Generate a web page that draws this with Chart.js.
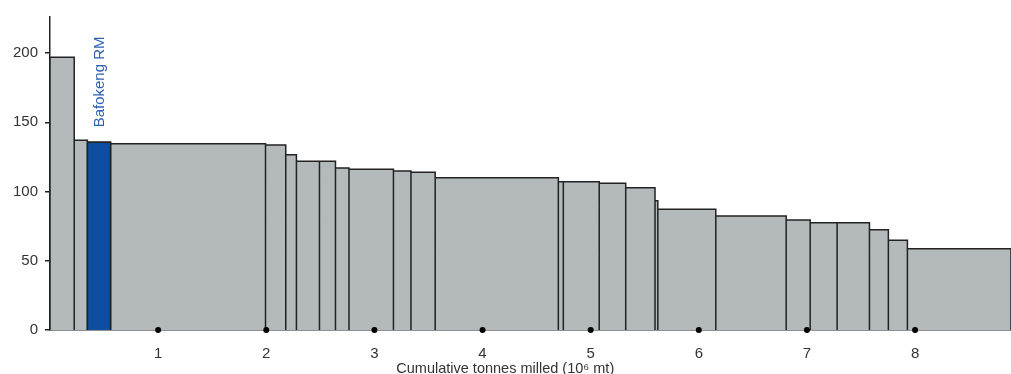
<!DOCTYPE html>
<html lang="en">
<head>
    <meta charset="UTF-8">
    <title>Cumulative tonnes milled</title>
    <script src="https://cdn.jsdelivr.net/npm/chart.js@4"></script>
    <style>
        body { margin: 0; background: #fff; }
        /* canvas is a few px wider than the window: Chart.js keeps ~5px free on the right */
        #wrap { width: 1011px; height: 374px; overflow: hidden; }
        #costCurve { display: block; }
    </style>
</head>
<body>
    <div id="wrap"><canvas id="costCurve" width="1015" height="374"></canvas></div>

    <script>
        // bar edges along the x axis (cumulative tonnes, 10^6 t) and bar heights
        const edges = [0, 0.224, 0.346, 0.56, 1.993, 2.18, 2.279, 2.492, 2.64, 2.765, 3.176, 3.338, 3.562,
                       4.701, 4.747, 5.079, 5.324, 5.595, 5.621, 6.157, 6.808, 7.03, 7.279, 7.578, 7.753, 7.929, 8.887];
        const costs = [197, 137, 135.5, 134.5, 133.6, 126.6, 121.8, 121.8, 117, 116, 114.8, 113.9, 110,
                       107, 107, 106, 102.8, 93.4, 87.1, 82.3, 79.4, 77.5, 77.5, 72.4, 64.8, 58.7];
        const highlightIndex = 2;
        const highlightLabel = 'Bafokeng RM';
        const xTicks = [1, 2, 3, 4, 5, 6, 7, 8];
        const yTicks = [0, 50, 100, 150, 200];
        const xTitle = 'Cumulative tonnes milled (10\u2076 mt)';

        const colors = {
            bar: '#b4babb',
            highlight: '#0e4ea1',
            label: '#2f62b5',
            line: '#222',
            text: '#333'
        };

        // outline of bar i as a closed step: bottom-left, top-left, top-right, bottom-right
        function barOutline(i) {
            return [
                { x: edges[i], y: 0 },
                { x: edges[i], y: costs[i] },
                { x: edges[i + 1], y: costs[i] },
                { x: edges[i + 1], y: 0 }
            ];
        }

        let allBars = [];
        costs.forEach((_, i) => { allBars = allBars.concat(barOutline(i)); });

        const labelPlugin = {
            id: 'labels',
            afterDatasetsDraw(chart) {
                const { ctx, scales: { x, y } } = chart;
                // name of the highlighted bar, rotated
                const cx = x.getPixelForValue((edges[highlightIndex] + edges[highlightIndex + 1]) / 2);
                const cy = y.getPixelForValue(costs[highlightIndex]) - 15;
                ctx.save();
                ctx.translate(cx, cy);
                ctx.rotate(-Math.PI / 2);
                ctx.fillStyle = colors.label;
                ctx.font = '15px "Liberation Sans", Arial, sans-serif';
                ctx.textAlign = 'left';
                ctx.textBaseline = 'middle';
                ctx.fillText(highlightLabel, 0, 1);
                ctx.restore();

                // x axis title, a bit left of centre as in the original
                ctx.save();
                ctx.fillStyle = colors.text;
                ctx.font = '14.5px "Liberation Sans", Arial, sans-serif';
                ctx.textAlign = 'center';
                ctx.textBaseline = 'alphabetic';
                ctx.fillText(xTitle, x.getPixelForValue(4.21), 373);
                ctx.restore();
            }
        };

        new Chart(document.getElementById('costCurve'), {
            type: 'scatter',
            data: {
                datasets: [
                    {
                        // dots on the x axis at each tick
                        data: xTicks.map(v => ({ x: v, y: 0 })),
                        pointRadius: 3,
                        pointBackgroundColor: '#000',
                        pointBorderWidth: 0,
                        showLine: false,
                        clip: false
                    },
                    {
                        data: barOutline(highlightIndex),
                        showLine: true,
                        pointRadius: 0,
                        fill: 'origin',
                        backgroundColor: colors.highlight,
                        borderColor: colors.line,
                        borderWidth: 1.5,
                        borderJoinStyle: 'miter',
                        tension: 0
                    },
                    {
                        data: allBars,
                        showLine: true,
                        pointRadius: 0,
                        fill: 'origin',
                        backgroundColor: colors.bar,
                        borderColor: colors.line,
                        borderWidth: 1.5,
                        borderJoinStyle: 'miter',
                        tension: 0
                    }
                ]
            },
            options: {
                responsive: false,
                animation: false,
                layout: { padding: { top: 17, right: 0, left: 0, bottom: 0 } },
                plugins: {
                    legend: { display: false },
                    tooltip: { enabled: false }
                },
                scales: {
                    x: {
                        type: 'linear',
                        min: 0,
                        max: edges[edges.length - 1],
                        afterBuildTicks: (scale) => { scale.ticks = xTicks.map(v => ({ value: v })); },
                        afterFit: (scale) => {
                            scale.height = 44;
                            scale.paddingLeft = 0;
                            scale.paddingRight = 0;
                        },
                        grid: { display: false, drawTicks: false },
                        border: { display: true, color: colors.line, width: 1.5 },
                        ticks: {
                            color: colors.text,
                            padding: 15,
                            maxRotation: 0,
                            font: { family: '"Liberation Sans", Arial, sans-serif', size: 15 }
                        }
                    },
                    y: {
                        min: 0,
                        max: 226,
                        afterBuildTicks: (scale) => { scale.ticks = yTicks.map(v => ({ value: v })); },
                        afterFit: (scale) => { scale.width = 50; },
                        grid: { drawOnChartArea: false, drawTicks: true, tickLength: 5, color: colors.line, lineWidth: 1.5 },
                        border: { display: true, color: colors.line, width: 1.5 },
                        ticks: {
                            color: colors.text,
                            padding: 7,
                            font: { family: '"Liberation Sans", Arial, sans-serif', size: 15 }
                        }
                    }
                }
            },
            plugins: [labelPlugin]
        });
    </script>
</body>
</html>
